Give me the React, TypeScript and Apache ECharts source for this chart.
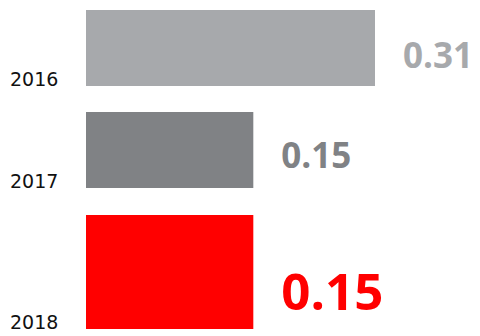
import React, { useEffect, useRef } from "react";
import * as echarts from "echarts";

const years = ["2016", "2017", "2018"];
const values = [0.31, 0.15, 0.15];
const barColors = ["#a7a9ac", "#808285", "#ff0000"];
const labelSizes = [35, 35, 51];

// layout (px) per row: top, height
const rowTops = [10, 112, 215];
const rowHeights = [76, 76, 114];
const labelOffsets = [6, 4, 18];

export default function App() {
  const ref = useRef<HTMLDivElement>(null);
  useEffect(() => {
    if (!ref.current) return;
    const chart = echarts.init(ref.current, null, { renderer: "svg" });
    const grids = years.map((_, i) => ({
      left: 86,
      right: 105,
      top: rowTops[i],
      height: rowHeights[i],
      containLabel: false,
      outerBoundsMode: "none",
    }));
    const xAxes = years.map((_, i) => ({
      type: "value" as const,
      gridIndex: i,
      min: -0.07,
      max: 0.31,
      startValue: -0.07,
      show: false,
    }));
    const yAxes = years.map((y, i) => ({
      type: "category" as const,
      gridIndex: i,
      data: [y],
      axisLine: { show: false },
      axisTick: { show: false },
      splitLine: { show: false },
      axisLabel: {
        align: "left",
        verticalAlign: "top",
        margin: 76,
        fontFamily: "DejaVu Sans",
        fontSize: 19,
        lineHeight: rowHeights[i] - 14,
        color: "#111111",
      },
    }));
    const series = years.map((_, i) => ({
      type: "bar" as const,
      xAxisIndex: i,
      yAxisIndex: i,
      data: [values[i]],
      barWidth: "100%",
      itemStyle: { color: barColors[i] },
      label: {
        show: true,
        position: "right",
        distance: 28,
        offset: [0, labelOffsets[i]],
        fontFamily: "Open Sans",
        fontWeight: "bold",
        fontSize: labelSizes[i],
        color: barColors[i],
        formatter: (p: any) => p.value.toFixed(2),
      },
    }));
    chart.setOption({
      animation: false,
      backgroundColor: "#ffffff",
      grid: grids,
      xAxis: xAxes,
      yAxis: yAxes,
      series,
    });
    return () => chart.dispose();
  }, []);
  return <div ref={ref} style={{ width: 480, height: 336, position: "fixed", left: 0, top: 0 }} />;
}
